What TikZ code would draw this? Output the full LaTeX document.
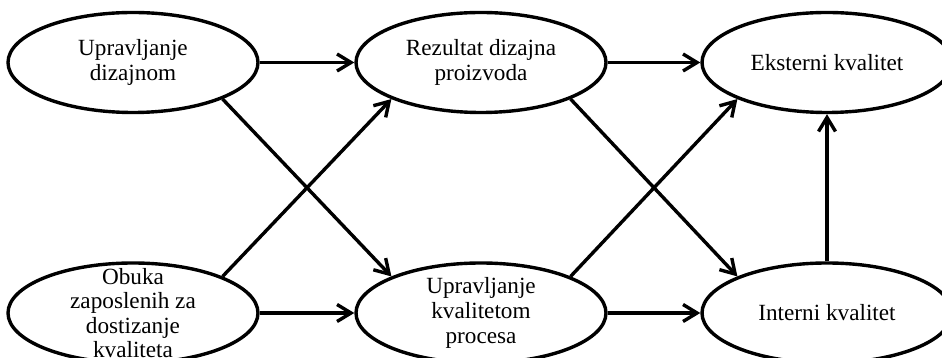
\documentclass[tikz,border=0pt]{standalone}
\usepackage{fontspec}
\setmainfont{Liberation Serif}
\usetikzlibrary{shapes.geometric,arrows.meta}
\begin{document}
\begin{tikzpicture}[x=0.5pt,y=0.5pt,
		oval/.style={draw,ellipse,line width=1.7pt,minimum width=125pt,minimum height=50pt,inner sep=0pt},
		txt/.style={align=center,inner sep=0pt,font=\fontsize{11.6pt}{12.3pt}\selectfont},
		arr/.style={line width=1.7pt,-{Straight Barb[length=7pt,width=8.5pt]}}]
	\useasboundingbox (0,0) rectangle (942,358);
	% obere Reihe
	\node[oval] (dizajn) at (133,295.5) {};
	\node[oval] (rezultat) at (481,295.5) {};
	\node[oval] (eksterni) at (827,295.5) {};
	% untere Reihe
	\node[oval] (obuka) at (133,45) {};
	\node[oval] (proces) at (481,45) {};
	\node[oval] (interni) at (827,45) {};
	\node[txt] (dizajnT) at (dizajn) {Upravljanje\\dizajnom};
	\node[txt] (rezultatT) at (rezultat) {Rezultat dizajna\\proizvoda};
	\node[txt] (eksterniT) at (eksterni) {Eksterni kvalitet};
	\node[txt] (obukaT) at (obuka) {Obuka\\zaposlenih za\\dostizanje\\kvaliteta};
	\node[txt] (procesT) at (proces) {Upravljanje\\kvalitetom\\procesa};
	\node[txt] (interniT) at (interni) {Interni kvalitet};
	\draw[arr] (dizajn.east) to (rezultat.west);
	\draw[arr] (rezultat.east) to (eksterni.west);
	\draw[arr] (obuka.east) to (proces.west);
	\draw[arr] (proces.east) to (interni.west);
	\draw[arr] (dizajn.south east) to (proces.north west);
	\draw[arr] (obuka.north east) to (rezultat.south west);
	\draw[arr] (rezultat.south east) to (interni.north west);
	\draw[arr] (proces.north east) to (eksterni.south west);
	\draw[arr] (interni.north) to (eksterni.south);
\end{tikzpicture}
\end{document}
